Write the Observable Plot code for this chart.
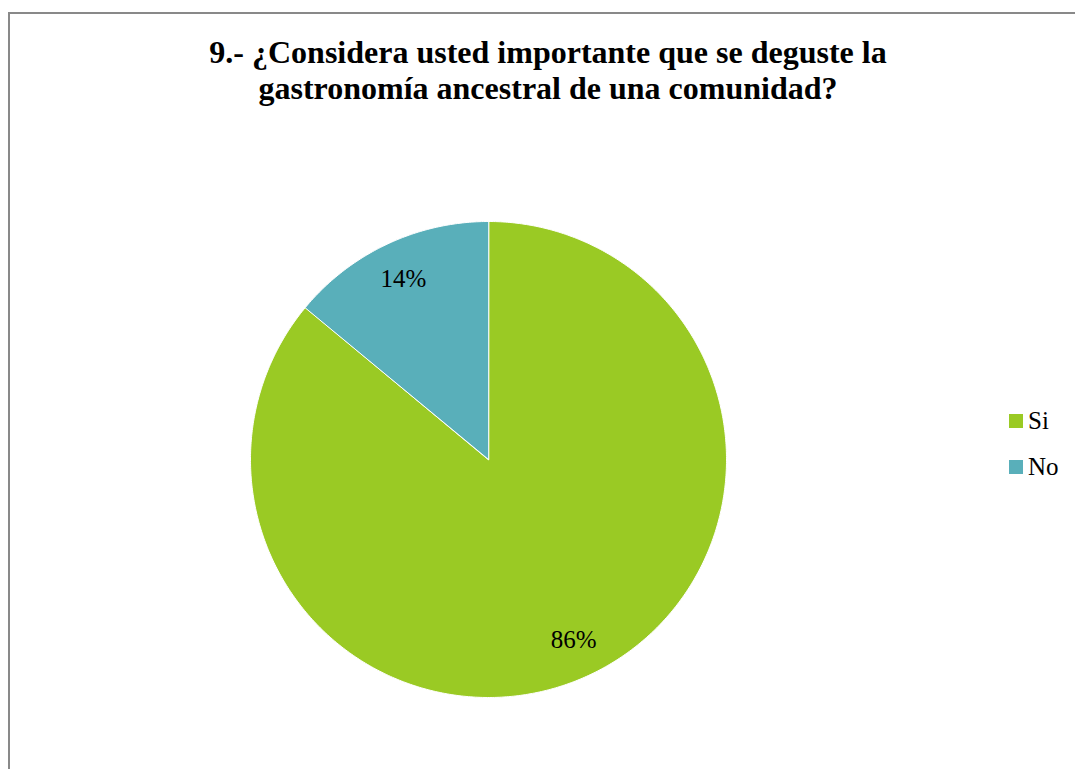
<!DOCTYPE html>
<html>
<head>
<meta charset="utf-8">
<script src="https://cdn.jsdelivr.net/npm/d3@7"></script>
<script src="https://cdn.jsdelivr.net/npm/@observablehq/plot@0.6"></script>
</head>
<body style="margin:0;padding:0;background:#fff;overflow:hidden;width:1075px;height:769px;">
<div style="position:absolute;left:8px;top:12px;width:1100px;height:800px;border:2px solid #898989;box-sizing:border-box;"></div>
<div id="title" style="position:absolute;left:0;top:34px;width:1096px;text-align:center;font-family:'Liberation Serif';font-weight:bold;font-size:32px;line-height:36px;color:#000;">9.- ¿Considera usted importante que se deguste la<br>gastronomía ancestral de una comunidad?</div>
<div id="chart" style="position:absolute;left:0;top:0;"></div>
<div id="legend" style="position:absolute;left:1009px;top:398px;font-family:'Liberation Serif';font-size:25px;color:#000;"></div>
<script>
const categories = ["Si", "No"];
const values = [86, 14];
const labels = ["86%", "14%"];
const colors = ["#9ACA24", "#59AFBA"];

const data = categories.map((c, i) => ({name: c, value: values[i], label: labels[i], color: colors[i]}));
const arcs = d3.pie().sort(null).value(d => d.value)(data);

function slicePoints(a) {
  const pts = [{x: 0, y: 0}];
  const n = Math.max(8, Math.ceil((a.endAngle - a.startAngle) / 0.01));
  for (let k = 0; k <= n; k++) {
    const t = a.startAngle + (a.endAngle - a.startAngle) * k / n;
    pts.push({x: Math.sin(t), y: Math.cos(t)});
  }
  return pts;
}

const labelPos = arcs.map(a => {
  const m = (a.startAngle + a.endAngle) / 2;
  return {x: 0.84 * Math.sin(m), y: 0.84 * Math.cos(m), label: a.data.label};
});

const plot = Plot.plot({
  width: 1075,
  height: 769,
  margin: 0,
  style: {fontFamily: "'Liberation Serif'", background: "transparent"},
  x: {domain: [-1, 1], range: [250, 726], axis: null},
  y: {domain: [-1, 1], range: [697, 221], axis: null},
  marks: [
    ...arcs.map(a => Plot.line(slicePoints(a), {x: "x", y: "y", fill: a.data.color, stroke: "#ffffff", strokeWidth: 1, curve: "linear-closed"})),
    Plot.text(labelPos, {x: "x", y: "y", text: "label", fontSize: 25, fontFamily: "Liberation Serif", fill: "#000"})
  ]
});
document.getElementById("chart").appendChild(plot);

const legend = document.getElementById("legend");
data.forEach(d => {
  const it = document.createElement("div");
  it.style.cssText = "display:flex;align-items:center;height:46px;";
  const sw = document.createElement("div");
  sw.style.cssText = "width:14px;height:14px;margin-right:5px;background:" + d.color + ";";
  const tx = document.createElement("span");
  tx.textContent = d.name;
  it.appendChild(sw); it.appendChild(tx);
  legend.appendChild(it);
});
</script>
</body>
</html>
